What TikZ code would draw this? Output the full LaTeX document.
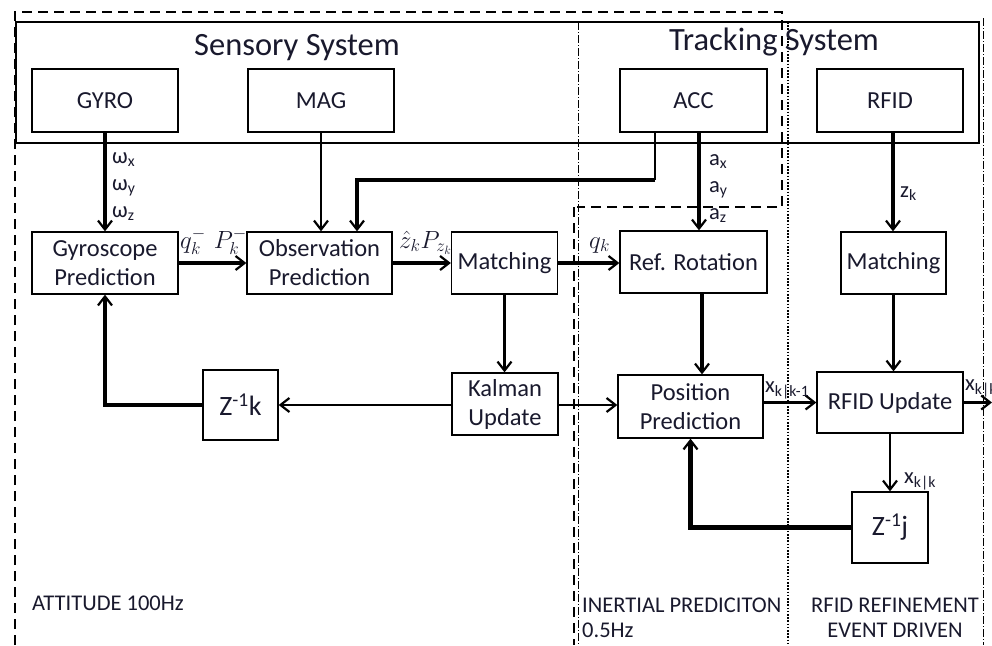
\documentclass[tikz,border=0pt]{standalone}
\usepackage{fontspec}
\setmainfont{Carlito}
\usetikzlibrary{arrows.meta}
\definecolor{tcol}{RGB}{25,25,45}
\begin{document}
\begin{tikzpicture}[x=1pt,y=-1pt,
  box/.style={draw, line width=1.3pt, inner sep=0pt, align=center, text=tcol,
    font=\fontsize{24.5}{29}\selectfont},
  lbl/.style={inner sep=0pt, text=tcol, font=\fontsize{22.5}{26}\selectfont},
  mlbl/.style={inner sep=0pt, text=tcol, font=\fontsize{23}{27}\selectfont},
  title/.style={inner sep=0pt, text=tcol, font=\fontsize{32.5}{38}\selectfont},
  tip/.style={-{Straight Barb[length=9pt,width=14pt,line width=2.2pt]}},
  thinarr/.style={line width=2.4pt, tip},
  thickarr/.style={line width=3.6pt, tip},
  heavyarr/.style={line width=4.8pt, tip},
  dashframe/.style={line width=2.6pt, dash pattern=on 10pt off 6pt},
  dashdot/.style={line width=1pt, dash pattern=on 8pt off 2pt on 1pt off 2pt},
  dotline/.style={line width=2.2pt, dash pattern=on 1.6pt off 1.6pt}
]
\useasboundingbox (0,0) rectangle (992,645);

% frames and region separators
\draw[line width=1.3pt] (16,22) rectangle (979,143);
\draw[dashdot] (578,22) -- (578,645);
\draw[dashdot] (983,18) -- (983,645);
\draw[dotline] (788,22) -- (788,645);
\draw[dashframe] (15,645) -- (15,12) -- (782,12) -- (782,207) -- (577,207);
\draw[dashframe] (574,207) -- (574,645);

\node[title, anchor=base] (sens) at (297,55) {Sensory System};
\node[title, anchor=base] (track) at (774,50) {Tracking System};

% sensors
\node[box, minimum width=146pt, minimum height=63pt] (gyro) at (105,100.5) {GYRO};
\node[box, minimum width=146pt, minimum height=63pt] (mag) at (321,100.5) {MAG};
\node[box, minimum width=147pt, minimum height=63pt] (acc) at (693.5,100.5) {ACC};
\node[box, minimum width=146pt, minimum height=63pt] (rfid) at (890,100.5) {RFID};

% processing blocks
\node[box, minimum width=146pt, minimum height=62pt] (gp) at (105,263) {Gyroscope\\Prediction};
\node[box, minimum width=145pt, minimum height=62pt] (obs) at (319.5,263) {Observation\\Prediction};
\node[box, minimum width=106pt, minimum height=62pt] (match) at (504.5,263) {Matching};
\node[box, minimum width=147pt, minimum height=62pt] (rr) at (693.5,262) {Ref. Rotation};
\node[box, minimum width=105pt, minimum height=62pt] (m2) at (893.5,263) {Matching};
\node[box, minimum width=75pt, minimum height=70pt, font=\fontsize{28}{32}\selectfont] (zk) at (240.5,405) {Z\textsuperscript{-1}k};
\node[box, minimum width=106pt, minimum height=62pt] (kal) at (505,404) {Kalman\\Update};
\node[box, minimum width=145pt, minimum height=63pt] (pp) at (690.5,406.5) {Position\\Prediction};
\node[box, minimum width=146pt, minimum height=61pt] (ru) at (890,402.5) {RFID Update};
\node[box, minimum width=76pt, minimum height=71pt, font=\fontsize{28}{32}\selectfont] (zj) at (890,527.5) {Z\textsuperscript{-1}j};

\coordinate (c1) at (655,180);
\coordinate (out) at (992,402.5);

% connectors
\draw[thickarr] (gyro.south) -- (gp.north);
\draw[thinarr] (mag.south) -- (mag.south |- obs.north);
\draw[line width=1.6pt] ([xshift=-38.5pt]acc.south) -- (c1);
\draw[thickarr] (c1) -| ([xshift=37.5pt]obs.north);
\draw[heavyarr] ([xshift=5.5pt]acc.south) -- ([xshift=5.5pt]acc.south |- rr.north);
\draw[thickarr] ([xshift=3pt]rfid.south) -- ([xshift=3pt]rfid.south |- m2.north);
\draw[thickarr] (gp.east) -- (obs.west);
\draw[thickarr] (obs.east) -- (match.west);
\draw[thickarr] (match.east) -- (match.east -| rr.west);
\draw[thinarr] (match.south) -- (match.south |- kal.north);
\draw[thinarr] (kal.west |- zk.east) -- (zk.east);
\draw[heavyarr] (zk.west) -| (gp.south);
\draw[thinarr] ([yshift=-1pt]kal.east) -- ([yshift=-1pt]kal.east -| pp.west);
\draw[thickarr] ([xshift=8.5pt]rr.south) -- ([xshift=8.5pt]rr.south |- pp.north);
\draw[thinarr] (pp.east |- ru.west) -- (ru.west);
\draw[thinarr] (m2.south) -- (m2.south |- ru.north);
\draw[thickarr] (ru.east) -- (out);
\draw[thinarr] (ru.south) -- (zj.north);
\draw[heavyarr] (zj.west) -| (pp.south);

% signal labels
\node[lbl, anchor=base west] (wx) at (112,163) {ω\textsubscript{x}};
\node[lbl, anchor=base west] (wy) at (112,190) {ω\textsubscript{y}};
\node[lbl, anchor=base west] (wz) at (112,217) {ω\textsubscript{z}};
\node[lbl, anchor=base west] (ax) at (709,165) {a\textsubscript{x}};
\node[lbl, anchor=base west] (ay) at (709,192) {a\textsubscript{y}};
\node[lbl, anchor=base west] (az) at (709,219) {a\textsubscript{z}};
\node[lbl, anchor=base west] (zkl) at (900,197) {z\textsubscript{k}};
\node[mlbl, anchor=base west] (qm) at (180,248) {$q_k^-$};
\node[mlbl, anchor=base east] (pm) at (247,248) {$P_k^-$};
\node[mlbl, anchor=base west] (zh) at (399,248) {$\hat z_k$};
\node[mlbl, anchor=base east] (pz) at (452,248) {$P_{z_k}$};
\node[mlbl, anchor=base west] (qk) at (589,248) {$q_k$};
\node[lbl, anchor=base west] (xkk1) at (765,392) {x\textsubscript{k|k-1}};
\node[lbl, anchor=base west] (xout) at (965,390) {x\textsubscript{k|k}};
\node[lbl, anchor=base west] (xkk) at (904,483) {x\textsubscript{k|k}};

% region captions
\node[lbl, anchor=base west] (att) at (32,610) {ATTITUDE 100Hz};
\node[lbl, anchor=base west] (ine) at (582,612) {INERTIAL PREDICITON};
\node[lbl, anchor=base west] (ine2) at (582,637) {0.5Hz};
\node[lbl, anchor=base] (rr1) at (895,612) {RFID REFINEMENT};
\node[lbl, anchor=base] (rr2) at (895,637) {EVENT DRIVEN};
\end{tikzpicture}
\end{document}
